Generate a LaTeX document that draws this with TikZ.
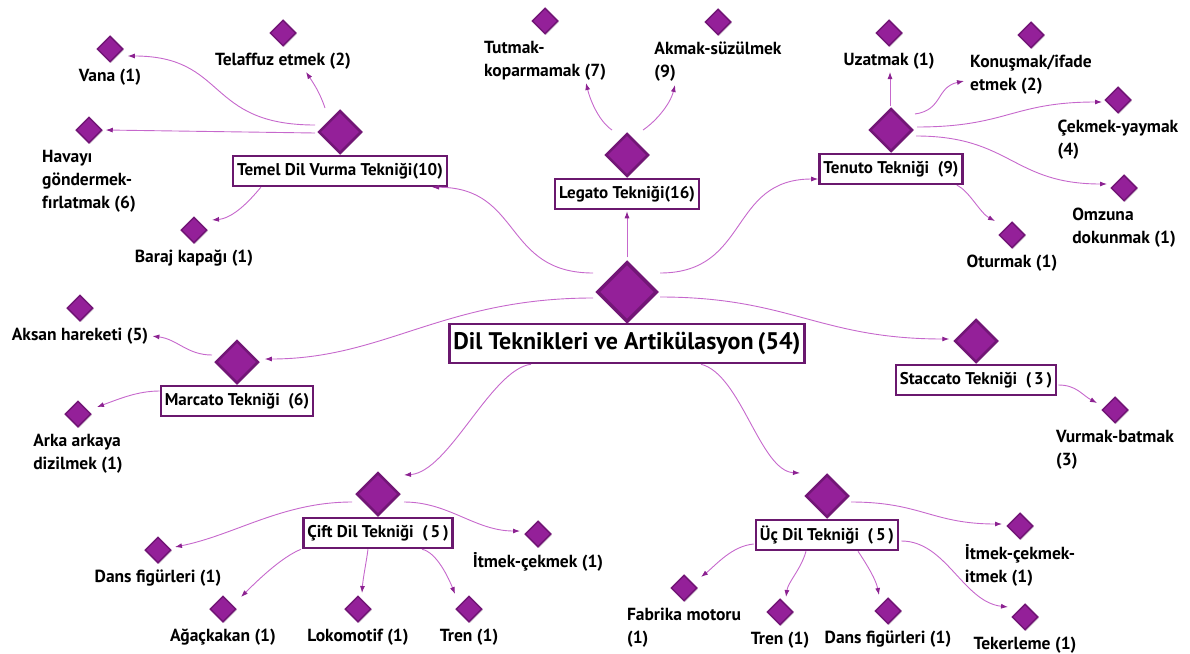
\documentclass[tikz,border=0pt]{standalone}
\usepackage{fontspec}
\setmainfont{PT Sans}
\usetikzlibrary{shapes.geometric,arrows.meta,positioning,calc,shadows}
\definecolor{diafill}{RGB}{148,32,153}
\definecolor{diadraw}{RGB}{114,22,118}
\definecolor{boxdraw}{RGB}{106,24,110}
\definecolor{linkcol}{RGB}{198,104,204}
\definecolor{tipcol}{RGB}{140,34,145}
\tikzset{
  dia/.style={diamond, fill=diafill, draw=diadraw, inner sep=0pt,
    drop shadow={shadow xshift=1.2pt, shadow yshift=-1.2pt, opacity=.25}},
  leafdia/.style={dia, line width=1.5pt, minimum width=26pt, minimum height=26pt},
  codedia/.style={dia, line width=2.5pt, minimum width=43pt, minimum height=43pt},
  rootdia/.style={dia, line width=3.5pt, minimum width=60pt, minimum height=60pt},
  leaf/.style={font=\fontsize{17.5}{23}\selectfont\bfseries, align=left, inner sep=0pt},
  codebox/.style={draw=boxdraw, fill=white, line width=2.5pt, minimum height=30pt,
    font=\fontsize{17}{20}\selectfont\bfseries, inner xsep=4pt, inner ysep=0pt},
  link/.style={draw=linkcol, line width=0.9pt, -{Latex[length=7pt,width=5pt,color=tipcol]}}
}

\begin{document}
\begin{tikzpicture}[x=1pt, y=-1pt]
\useasboundingbox (0,0) rectangle (1190,653);

% root and codes
\node[rootdia] (dil) at (627,292) {};
\node[codebox, minimum height=39pt, font=\fontsize{24}{27}\selectfont\bfseries,
  below=-1pt of dil] (dilbox) {Dil Teknikleri ve Artikülasyon\,(54)};
\node[codedia] (temel) at (340,132) {};
\node[codebox, below=0pt of temel] (temelbox) {Temel Dil Vurma Tekniği(10)};
\node[codedia] (legato) at (627,155) {};
\node[codebox, below=0pt of legato] (legatobox) {Legato Tekniği(16)};
\node[codedia] (tenuto) at (891,130) {};
\node[codebox, below=0pt of tenuto] (tenutobox) {Tenuto Tekniği\enspace(9)};
\node[codedia] (marcato) at (237,362) {};
\node[codebox, below=0pt of marcato] (marcatobox) {Marcato Tekniği\enspace(6)};
\node[codedia] (staccato) at (976,341) {};
\node[codebox, below=0pt of staccato] (staccatobox) {Staccato Tekniği\enspace(\,3\,)};
\node[codedia] (cift) at (378,494) {};
\node[codebox, below=0pt of cift] (ciftbox) {Çift Dil Tekniği\enspace(\,5\,)};
\node[codedia] (uc) at (827,496) {};
\node[codebox, below=0pt of uc] (ucbox) {Üç Dil Tekniği\enspace(\,5\,)};

% subcodes
\node[leafdia] (vana) at (110,49) {};
\node[leaf, below=6pt of vana] (vanalbl) {Vana (1)};
\node[leafdia] (telaffuz) at (283,33) {};
\node[leaf, below=6pt of telaffuz] (telaffuzlbl) {Telaffuz etmek (2)};
\node[leafdia] (hava) at (89,130) {};
\node[leaf, below=6pt of hava] (havalbl) {Havayı\\göndermek-\\fırlatmak (6)};
\node[leafdia] (baraj) at (194,230) {};
\node[leaf, below=6pt of baraj] (barajlbl) {Baraj kapağı (1)};
\node[leafdia] (tutmak) at (545,21) {};
\node[leaf, below=6pt of tutmak] (tutmaklbl) {Tutmak-\\koparmamak (7)};
\node[leafdia] (akmak) at (718,22) {};
\node[leaf, below=6pt of akmak] (akmaklbl) {Akmak-süzülmek\\(9)};
\node[leafdia] (uzatmak) at (889,33) {};
\node[leaf, below=6pt of uzatmak] (uzatmaklbl) {Uzatmak (1)};
\node[leafdia] (konusmak) at (1031,35) {};
\node[leaf, below=6pt of konusmak] (konusmaklbl) {Konuşmak/ifade\\etmek (2)};
\node[leafdia] (cekmek) at (1118,100) {};
\node[leaf, below=6pt of cekmek] (cekmeklbl) {Çekmek-yaymak\\(4)};
\node[leafdia] (omzuna) at (1124,188) {};
\node[leaf, below=6pt of omzuna] (omzunalbl) {Omzuna\\dokunmak (1)};
\node[leafdia] (oturmak) at (1012,235) {};
\node[leaf, below=6pt of oturmak] (oturmaklbl) {Oturmak (1)};
\node[leafdia] (aksan) at (80,308) {};
\node[leaf, below=6pt of aksan] (aksanlbl) {Aksan hareketi (5)};
\node[leafdia] (arka) at (78,414) {};
\node[leaf, below=6pt of arka] (arkalbl) {Arka arkaya\\dizilmek (1)};
\node[leafdia] (vurmak) at (1115,410) {};
\node[leaf, below=6pt of vurmak] (vurmaklbl) {Vurmak-batmak\\(3)};
\node[leafdia] (ciftdans) at (158,550) {};
\node[leaf, below=6pt of ciftdans] (ciftdanslbl) {Dans figürleri (1)};
\node[leafdia] (agackakan) at (223,609) {};
\node[leaf, below=6pt of agackakan] (agackakanlbl) {Ağaçkakan (1)};
\node[leafdia] (lokomotif) at (358,609) {};
\node[leaf, below=6pt of lokomotif] (lokomotiflbl) {Lokomotif (1)};
\node[leafdia] (ciftren) at (469,609) {};
\node[leaf, below=6pt of ciftren] (ciftrenlbl) {Tren (1)};
\node[leafdia] (itmek) at (538,534) {};
\node[leaf, below=4pt of itmek] (itmeklbl) {İtmek-çekmek (1)};
\node[leafdia] (fabrika) at (684,588) {};
\node[leaf, below=6pt of fabrika] (fabrikalbl) {Fabrika motoru\\(1)};
\node[leafdia] (uctren) at (780,612) {};
\node[leaf, below=6pt of uctren] (uctrenlbl) {Tren (1)};
\node[leafdia] (ucdans) at (888,611) {};
\node[leaf, below=6pt of ucdans] (ucdanslbl) {Dans figürleri (1)};
\node[leafdia] (itmekb) at (1020,526) {};
\node[leaf, below=4pt of itmekb] (itmekblbl) {İtmek-çekmek-\\itmek (1)};
\node[leafdia] (tekerleme) at (1025,617) {};
\node[leaf, below=6pt of tekerleme] (tekerlemelbl) {Tekerleme (1)};

% root links
\draw[link] ($(dil)+(-34,-19)$) .. controls +(-90,0) and +(90,0) .. ($(temelbox.south east)+(-16,0)$);
\draw[link, shorten <=3pt, shorten >=1pt] (dil.north) -- (legatobox.south);
\draw[link] ($(dil)+(33,-19)$) .. controls +(90,0) and +(-90,0) .. ($(tenutobox.west)+(0,10)$);
\draw[link] ($(dil)+(-34,6)$) .. controls +(-150,0) and +(120,0) .. ($(marcato.east)+(5,-3)$);
\draw[link] ($(dil)+(33,5)$) .. controls +(130,0) and +(-130,0) .. ($(staccato.west)+(-4,-2)$);
\draw[link] ($(dilbox.south)+(-96,0)$) .. controls +(-40,5) and +(45,-3) .. ($(cift)+(26,-19)$);
\draw[link] ($(dilbox.south)+(74,0)$) .. controls +(40,10) and +(-40,-2) .. ($(uc)+(-27,-23)$);

% temel
\draw[link] ($(temel)+(-25,-7)$) .. controls +(-110,0) and +(100,0) .. ($(vana.east)+(4,7)$);
\draw[link] ($(temel)+(-25,1)$) -- ($(hava.east)+(3,0)$);
\draw[link] ($(temel)+(-15,-24)$) .. controls +(-5,-15) and +(8,12) .. ($(telaffuz)+(23,39)$);
\draw[link] ($(temelbox.south west)+(29,0)$) .. controls +(-10,12) and +(22,-2) .. ($(baraj)+(18,-10)$);

% legato
\draw[link] ($(legato)+(-15,-25)$) .. controls +(-12,-8) and +(5,20) .. ($(tutmak)+(41,62)$);
\draw[link] ($(legato)+(16,-25)$) .. controls +(12,-8) and +(-5,20) .. ($(akmak)+(-43,63)$);

% tenuto
\draw[link] ($(tenuto)+(-1,-24)$) -- ($(uzatmak)+(1,39)$);
\draw[link] ($(tenuto)+(24,-16)$) .. controls +(28,-4) and +(-28,6) .. ($(konusmak)+(-67,46)$);
\draw[link] ($(tenuto)+(26,-3)$) .. controls +(90,0) and +(-90,0) .. ($(cekmek)+(-16,2)$);
\draw[link] ($(tenuto)+(25,6)$) .. controls +(95,0) and +(-95,0) .. ($(omzuna)+(-17,-4)$);
\draw[link] ($(tenutobox.south east)+(-7,0)$) .. controls +(12,5) and +(-15,-8) .. ($(oturmak)+(-17,-14)$);

% marcato, staccato
\draw[link] ($(marcato)+(-25,-7)$) .. controls +(-25,0) and +(25,3) .. ($(aksanlbl.east)+(4,0)$);
\draw[link] ($(marcatobox.west)+(0,-10)$) .. controls +(-22,0) and +(22,-8) .. ($(arka)+(19,-7)$);
\draw[link] ($(staccatobox.east)+(1,5)$) .. controls +(18,0) and +(-15,-8) .. ($(vurmak)+(-18,-7)$);

% cift
\draw[link] ($(cift)+(-26,8)$) .. controls +(-70,0) and +(60,-12) .. ($(ciftdans)+(17,-3)$);
\draw[link] ($(ciftbox.south west)+(-1,0)$) .. controls +(-20,8) and +(15,-15) .. ($(agackakan)+(18,-12)$);
\draw[link] ($(ciftbox.south)+(-10,0)$) .. controls +(-2,15) and +(1,-15) .. ($(lokomotif)+(4,-16)$);
\draw[link] ($(ciftbox.south east)+(-32,0)$) .. controls +(15,3) and +(-6,-15) .. ($(ciftren)+(-14,-15)$);
\draw[link] ($(cift)+(26,8)$) .. controls +(45,0) and +(-45,0) .. ($(itmek)+(-18,-3)$);

% uc
\draw[link] ($(uc)+(24,6)$) .. controls +(70,0) and +(-70,0) .. ($(itmekb)+(-18,-2)$);
\draw[link] ($(ucbox.east)+(2,6)$) .. controls +(45,0) and +(-45,-5) .. ($(tekerleme)+(-17,-10)$);
\draw[link] ($(ucbox.west)+(-1,9)$) .. controls +(-22,2) and +(15,-12) .. ($(fabrika)+(17,-11)$);
\draw[link] ($(ucbox.south)+(-21,0)$) .. controls +(-5,18) and +(2,-15) .. ($(uctren)+(6,-15)$);
\draw[link] ($(ucbox.south)+(31,0)$) .. controls +(10,15) and +(-3,-15) .. ($(ucdans)+(-9,-16)$);
\end{tikzpicture}
\end{document}
